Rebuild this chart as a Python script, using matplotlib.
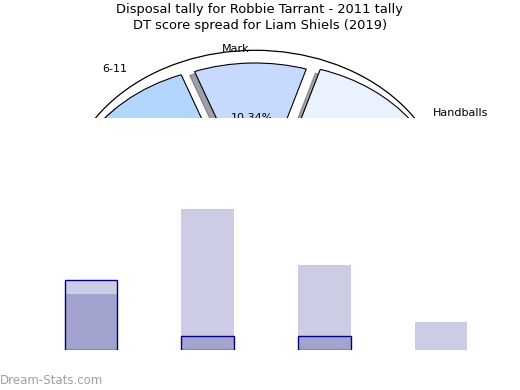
import matplotlib
matplotlib.use("Agg")
import matplotlib.pyplot as plt
from matplotlib.patches import Circle
import numpy as np

# ---- data ----
title_line1 = "Disposal tally for Robbie Tarrant - 2011 tally"
title_line2 = "DT score spread for Liam Shiels (2019)"
pie_labels = ["Handballs", "Mark", "6-11"]
pie_values = [12, 3, 14]
pie_colors = ["#ebf2ff", "#c6d9ff", "#b3d6ff"]
pie_explode = [0.08, 0, 0.08]

ring_labels = ["Handballs", "6-11", ""]
ring_values = [96, 95, 169]

bar_categories = ["A", "B", "C", "D"]
series_a = [4, 10, 6, 2]
series_b = [5, 1, 1, 0]

fig = plt.figure(figsize=(5.2, 3.9), dpi=100)

# ---- pie (top, clipped) ----
axp = fig.add_axes([0, 1 - 118 / 390, 1, 118 / 390])
axp.set_zorder(1)

# outer ring (white backdrop carrying the outer labels)
rw, rt = axp.pie(ring_values, labels=ring_labels, radius=1.092,
                 startangle=-16, colors=["white"] * len(ring_values),
                 wedgeprops=dict(linewidth=0), textprops=dict(fontsize=8))
for w in rw:
    w.set_zorder(0.2)
axp.add_patch(Circle((0, 0), 1.092, fill=False, edgecolor="black",
                     linewidth=0.9, zorder=0.3))

wedges, texts, autotexts = axp.pie(
    pie_values, labels=pie_labels, colors=pie_colors, explode=pie_explode,
    startangle=-76, shadow=True, autopct="%.2f%%",
    wedgeprops=dict(edgecolor="black", linewidth=0.8),
    textprops=dict(fontsize=8))

for p in axp.patches:
    p.set_clip_on(True)
for t in axp.texts:
    t.set_clip_on(True)

axp.set_aspect("auto")
axp.set_xlim(-255 / 175, 265 / 175)
axp.set_ylim((201 - 118) / 138, 201 / 138)
axp.axis("off")

# ---- bars (bottom) ----
axb = fig.add_axes([44 / 520, 40 / 390, 444 / 520, 232 / 390])
axb.set_zorder(2)
axb.set_facecolor("white")
x = np.arange(len(bar_categories))
axb.bar(x, series_a, width=0.45, color=(0, 0, 0.5, 0.2), linewidth=0)
edge_cols = ["navy" if v > 0 else "none" for v in series_b]
axb.bar(x, series_b, width=0.45, color=(0, 0, 0.5, 0.2),
        edgecolor=edge_cols, linewidth=1.0)
axb.set_xlim(-0.403, 3.403)
axb.set_ylim(0, 232 / 14.1)
axb.set_xticks([])
axb.set_yticks([])
for s in axb.spines.values():
    s.set_visible(False)

# ---- titles / watermark ----
fig.text(0.5, 1 - 10 / 390, title_line1, ha="center", va="center", fontsize=9.4)
fig.text(0.5, 1 - 25 / 390, title_line2, ha="center", va="center", fontsize=9.4)
fig.text(0.0, 1 - 380 / 390, "Dream-Stats.com", ha="left", va="center",
         fontsize=8.5, color="#a0a0a0")

fig.savefig("out.png", dpi=100)
